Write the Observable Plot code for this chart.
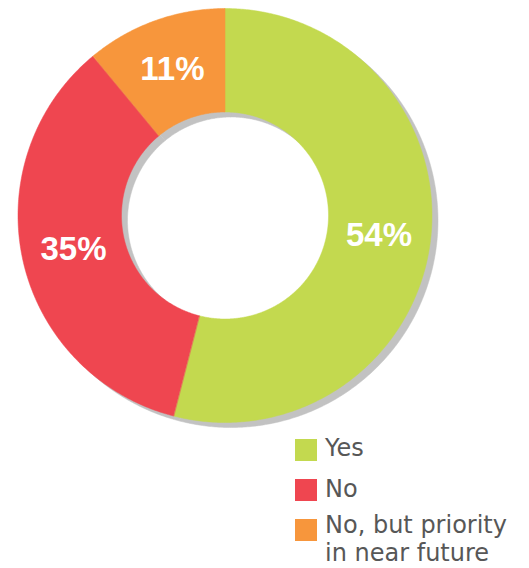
<!DOCTYPE html>
<html>
<head>
<meta charset="utf-8">
<script src="https://cdn.jsdelivr.net/npm/d3@7"></script>
<script src="https://cdn.jsdelivr.net/npm/@observablehq/plot@0.6"></script>
<style>
  html, body { margin: 0; padding: 0; background: #fff; }
  #wrap { position: relative; width: 529px; height: 568px; overflow: hidden; }
  #chart svg { display: block; }
  .lg { position: absolute; font-family: "DejaVu Sans", sans-serif; font-size: 24px; line-height: 28px; color: #575757; white-space: nowrap; }
  .sw { position: absolute; width: 22px; height: 22px; }
</style>
</head>
<body>
<div id="wrap">
  <div id="chart"></div>
  <div id="legend"></div>
</div>
<script>
const categories = ["Yes", "No", "No, but priority in near future"];
const values = [54, 35, 11];
const valueLabels = ["54%", "35%", "11%"];
const colors = ["#c3d94f", "#ef4650", "#f7963c"];
const legendLines = [["Yes"], ["No"], ["No, but priority", "in near future"]];

const innerRatio = 0.5;
const labelRatio = 0.75;

const arcs = d3.pie().sort(null).value(d => d)(values);

// Ring-slice polygons in unit coordinates (y up), derived from the pie angles
const points = [];
arcs.forEach((a, i) => {
  const key = categories[i];
  const n = Math.max(2, Math.ceil((a.endAngle - a.startAngle) / (Math.PI / 360)));
  for (let k = 0; k <= n; k++) {
    const t = a.startAngle + (a.endAngle - a.startAngle) * k / n;
    points.push({key, x: Math.sin(t), y: Math.cos(t)});
  }
  for (let k = n; k >= 0; k--) {
    const t = a.startAngle + (a.endAngle - a.startAngle) * k / n;
    points.push({key, x: innerRatio * Math.sin(t), y: innerRatio * Math.cos(t)});
  }
});

const labelData = arcs.map((a, i) => {
  const m = (a.startAngle + a.endAngle) / 2;
  return {text: valueLabels[i], x: labelRatio * Math.sin(m), y: labelRatio * Math.cos(m)};
});

const cx = 224.5, cy = 215, R = 207;

const chart = Plot.plot({
  width: 529,
  height: 432,
  margin: 0,
  x: {domain: [-1, 1], range: [cx - R, cx + R], axis: null},
  y: {domain: [-1, 1], range: [cy + R, cy - R], axis: null},
  color: {domain: categories, range: colors},
  marks: [
    Plot.line(points, {x: "x", y: "y", z: "key", fill: "#c2c2c2", stroke: "#c2c2c2", strokeWidth: 0.5, curve: "linear-closed", dx: 6, dy: 5}),
    Plot.line(points, {x: "x", y: "y", z: "key", fill: "key", stroke: "key", strokeWidth: 0.5, curve: "linear-closed"}),
    Plot.text(labelData, {x: "x", y: "y", text: "text", fill: "white", fontSize: 33, fontWeight: "bold", fontFamily: "Liberation Sans, Arial, sans-serif"})
  ]
});
document.getElementById("chart").appendChild(chart);

// Legend below/right of the ring
const legend = document.getElementById("legend");
const rowTops = [434, 475, 511];
const swatchTops = [439, 479, 519];
categories.forEach((c, i) => {
  const sw = document.createElement("div");
  sw.className = "sw";
  sw.style.left = "295px";
  sw.style.top = swatchTops[i] + "px";
  sw.style.background = colors[i];
  legend.appendChild(sw);
  const t = document.createElement("div");
  t.className = "lg";
  t.style.left = "325px";
  t.style.top = rowTops[i] + "px";
  t.innerHTML = legendLines[i].join("<br>");
  legend.appendChild(t);
});
</script>
</body>
</html>
